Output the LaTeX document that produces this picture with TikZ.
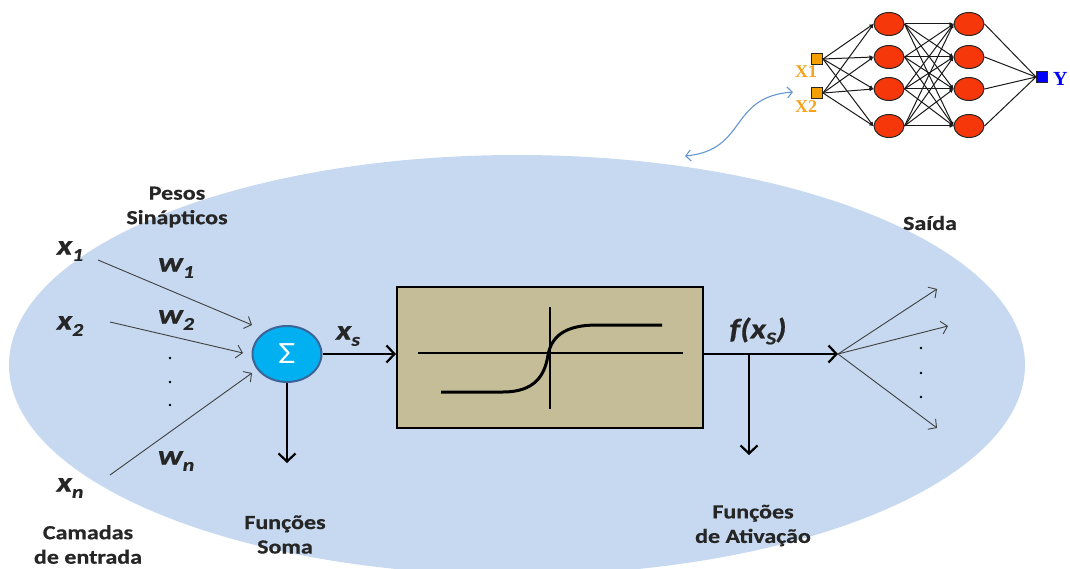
\documentclass[tikz,border=0pt]{standalone}
\usepackage{fontspec}
\setmainfont{Carlito}[FakeStretch=1.2, BoldFeatures={FakeBold=0.6}, BoldItalicFeatures={FakeBold=0.6}]
\newfontfamily\netfont{Liberation Serif}
\usetikzlibrary{arrows.meta,shapes.geometric}
\definecolor{bgblue}{RGB}{198,217,240}
\definecolor{sigfill}{RGB}{0,176,240}
\definecolor{sigdraw}{RGB}{60,100,150}
\definecolor{boxfill}{RGB}{196,189,151}
\definecolor{neured}{RGB}{245,55,10}
\definecolor{inorange}{RGB}{245,160,0}
\definecolor{laborange}{RGB}{247,162,27}
\definecolor{curvblue}{RGB}{100,150,210}
\definecolor{ingray}{RGB}{64,64,64}
\newcommand{\sbx}[1]{\raisebox{-0.45ex}{\fontsize{18}{18}\selectfont #1}}
\begin{document}
\begin{tikzpicture}[x=1pt,y=-1pt,
  lbl/.style={font=\fontsize{20}{24.5}\selectfont\bfseries, align=center, text=black!85},
  mlbl/.style={font=\fontsize{28}{30}\selectfont\bfseries\itshape, text=black!85},
  thinarrow/.style={draw=ingray, line width=0.9pt, -{Straight Barb[length=6pt,width=13pt]}},
  thickarrow/.style={draw=black, line width=2pt, -{Straight Barb[length=8pt,width=17pt,line width=2.2pt]}},
  neuron/.style={ellipse, draw=black!85, fill=neured, minimum width=30pt, minimum height=23pt, line width=1pt, inner sep=0pt},
  insq/.style={rectangle, draw=black!85, fill=inorange, minimum size=11pt, line width=1pt, inner sep=0pt},
  outsq/.style={rectangle, draw=black!85, fill=blue, minimum size=11pt, line width=1pt, inner sep=0pt},
  netedge/.style={draw=black!90, line width=1pt, -{Latex[length=4pt,width=4pt]}},
  netline/.style={draw=black!90, line width=1pt},
  dot/.style={circle, fill=black, inner sep=0pt, minimum size=2.8pt}
]
\useasboundingbox (0,0) rectangle (1070,569);
\clip (0,0) rectangle (1070,569);

% background ellipse
\fill[bgblue] (517,365) ellipse [x radius=508pt, y radius=210pt];

% ---- small network (top right) ----
\node[insq] (i1) at (817,59) {};
\node[insq] (i2) at (817,93) {};
\node[font=\netfont\bfseries\fontsize{18}{18}\selectfont, text=laborange] (lx1) at (806,72) {X1};
\node[font=\netfont\bfseries\fontsize{18}{18}\selectfont, text=laborange] (lx2) at (806,107) {X2};
\foreach \j/\yy in {1/24,2/57,3/89,4/126} {
  \node[neuron] (ha\j) at (889,\yy) {};
  \node[neuron] (hb\j) at (969,\yy) {};
}
\node[outsq] (o) at (1042,77) {};
\node[font=\netfont\bfseries\fontsize{20}{20}\selectfont, text=blue, anchor=west, inner sep=0pt] (ly) at (1053,79) {Y};
\foreach \i in {1,2} \foreach \j in {1,...,4} \draw[netedge] (i\i.east) -- (ha\j.west);
\foreach \i in {1,...,4} \foreach \j in {1,...,4} \draw[netedge] (ha\i.east) -- (hb\j.west);
\foreach \j in {1,...,4} \draw[netline] (hb\j.east) -- (o.west);

% curved double arrow
\coordinate (ca1) at (685,156);
\coordinate (ca2) at (793,92);
\draw[curvblue, line width=1.1pt, {Straight Barb[length=5pt,width=11pt]}-{Straight Barb[length=5pt,width=11pt]}]
  (ca1) .. controls (748,150) and (728,97) .. (ca2);

% ---- main neuron ----
\node[lbl] (pesos) at (177,207) {Pesos\\Sinápticos};
\node[lbl] (camadas) at (88,544.5) {Camadas\\de entrada};
\node[lbl] (fsoma) at (285,534.5) {Funções\\Soma};
\node[lbl] (fativ) at (753,525.5) {Funções\\de Ativação};
\node[lbl] (saida) at (930,223) {Saída};

\node[mlbl] (x1) at (70,251) {x\sbx{1}};
\node[mlbl] (x2) at (70,326) {x\sbx{2}};
\node[mlbl] (xn) at (70,488) {x\sbx{n}};
\node[mlbl] (w1) at (176,268) {w\sbx{1}};
\node[mlbl] (w2) at (176,320) {w\sbx{2}};
\node[mlbl] (wn) at (176,461) {w\sbx{n}};

\node[dot] (d1) at (170,358) {};
\node[dot] (d2) at (170,382) {};
\node[dot] (d3) at (170,405) {};

\node[ellipse, draw=sigdraw, fill=sigfill, line width=2pt, minimum width=69pt, minimum height=56pt, inner sep=0pt,
      font=\fontsize{31}{31}\selectfont, text=white] (sig) at (287,354) {Σ};

\coordinate (s1) at (98,260);
\coordinate (s2) at (110,322);
\coordinate (sn) at (110,475);
\coordinate (e1) at (252,325);
\coordinate (e2) at (243,353);
\coordinate (en) at (252,373);
\draw[thinarrow] (s1) -- (e1);
\draw[thinarrow] (s2) -- (e2);
\draw[thinarrow] (sn) -- (en);

\coordinate (sdown) at (287,463);
\draw[thickarrow] (sig.south) -- (sdown);

% activation box
\node[draw=black, fill=boxfill, line width=2pt, minimum width=306pt, minimum height=141pt, inner sep=0pt] (box) at (550,357.5) {};
\draw[thickarrow] (sig.east) -- (sig.east -| box.west);
\node[mlbl] (xs) at (348,336) {x\sbx{s}};

% sigmoid inside the box
\draw[black, line width=1.6pt] (418,353) -- (683,353);
\draw[black, line width=1.6pt] (550,307) -- (550,409);
\draw[black, line width=3pt] (441,392) -- (503,392) .. controls (535,392) and (545,375) .. (548,355)
  .. controls (552,333) and (570,325) .. (597,325) -- (662,325);

% output
\coordinate (fan) at (838,354);
\draw[thickarrow] (box.east |- fan) -- (fan);
\node[mlbl] (fx) at (758,331) {f(x\sbx{S})};
\coordinate (tap) at (749,354);
\coordinate (tapend) at (749,455);
\draw[thickarrow] (tap) -- (tapend);

\coordinate (o1) at (937,289);
\coordinate (o2) at (948,326);
\coordinate (o3) at (937,428);
\draw[thinarrow] (fan) -- (o1);
\draw[thinarrow] (fan) -- (o2);
\draw[thinarrow] (fan) -- (o3);
\node[dot] (d4) at (921,348) {};
\node[dot] (d5) at (921,373) {};
\node[dot] (d6) at (921,397) {};
\end{tikzpicture}
\end{document}
